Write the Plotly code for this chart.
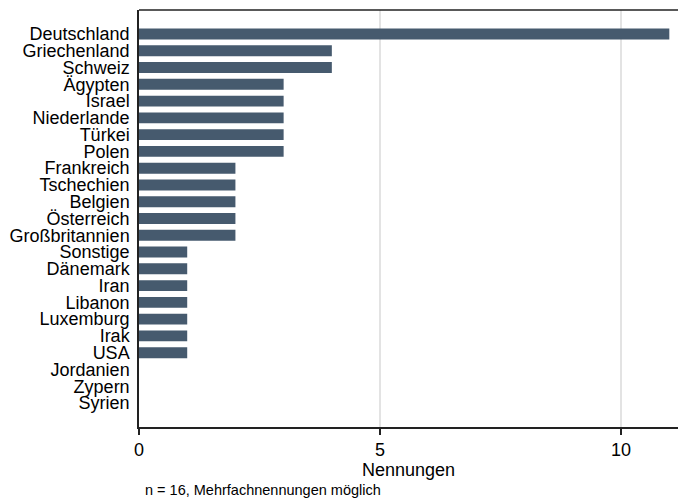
import plotly.graph_objects as go

# Nennungen je Land (von oben nach unten)
laender = [
    "Deutschland", "Griechenland", "Schweiz", "Ägypten", "Israel",
    "Niederlande", "Türkei", "Polen", "Frankreich", "Tschechien",
    "Belgien", "Österreich", "Großbritannien", "Sonstige", "Dänemark",
    "Iran", "Libanon", "Luxemburg", "Irak", "USA",
    "Jordanien", "Zypern", "Syrien",
]
nennungen = [11, 4, 4, 3, 3, 3, 3, 3, 2, 2, 2, 2, 2, 1, 1, 1, 1, 1, 1, 1, 0, 0, 0]
x_ticks = [0, 5, 10]
notiz = "n = 16, Mehrfachnennungen möglich"

BAR = "#465a6e"
FONT = "Liberation Sans, Arial, Helvetica, sans-serif"

fig = go.Figure(
    go.Bar(
        x=nennungen,
        y=laender,
        orientation="h",
        width=0.65,
        marker=dict(color=BAR, line=dict(width=0)),
        hoverinfo="x+y",
    )
)

n = len(laender)
pad = 1.43

fig.update_layout(
    width=678,
    height=498,
    margin=dict(l=139, r=0, t=10, b=71),
    paper_bgcolor="white",
    plot_bgcolor="white",
    font=dict(family=FONT, color="black"),
    showlegend=False,
    xaxis=dict(
        range=[0, 11.18],
        tickvals=x_ticks,
        ticktext=[str(v) for v in x_ticks],
        ticks="outside",
        ticklen=6,
        tickwidth=1.5,
        tickcolor="#222",
        tickfont=dict(size=18),
        showgrid=True,
        gridcolor="#e3e3e3",
        gridwidth=1.5,
        zeroline=False,
        showline=True,
        linecolor="#222",
        linewidth=1.5,
        title=dict(text="Nennungen", font=dict(size=18), standoff=2),
    ),
    yaxis=dict(
        type="category",
        categoryorder="array",
        categoryarray=laender,
        tickmode="array",
        tickvals=laender,
        ticktext=laender,
        range=[n - 1 + pad, -pad],
        ticks="",
        tickfont=dict(size=18),
        ticklabelstandoff=4,
        showgrid=False,
        zeroline=False,
        showline=True,
        linecolor="#222",
        linewidth=1.5,
    ),
    shapes=[
        dict(
            type="line", xref="paper", yref="paper",
            x0=0, x1=1, y0=1, y1=1,
            line=dict(color="#222", width=1.5),
        )
    ],
    annotations=[
        dict(
            text=notiz,
            xref="paper", yref="paper",
            x=4 / 539, y=-63 / 417,
            xanchor="left", yanchor="middle",
            showarrow=False,
            font=dict(size=14.5),
        )
    ],
)

fig.write_html("out.html")
